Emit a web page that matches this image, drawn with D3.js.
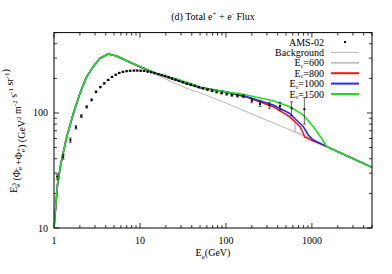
<!DOCTYPE html>
<html>
<head>
<meta charset="utf-8">
<script src="https://cdn.jsdelivr.net/npm/d3@7"></script>
<style>
  body { margin: 0; background: #fff; }
  text { font-family: "Liberation Serif", "Times New Roman", serif; font-size: 10px; fill: #000; }
</style>
</head>
<body>
<svg id="chart" width="392" height="274"></svg>
<script>
// AMS-02 total e+ + e- flux, E^3 weighted : [E (GeV), value, error]
var amsData = [
  [1.09, 28, 1.5], [1.28, 41.7, 2], [1.55, 58, 2.5], [1.80, 75, 2.5], [2.08, 94, 2.5],
  [2.40, 113, 2.5], [2.74, 130, 2.5], [3.08, 153, 2.5], [3.46, 168, 2.5], [3.84, 181, 2.5],
  [4.27, 194, 2.5], [4.73, 206, 2.5], [5.23, 215, 2.5], [5.74, 223, 2.5], [6.34, 228, 2.5],
  [6.99, 231, 2.5], [7.7, 233, 2.5], [8.5, 234, 2.5], [9.3, 234, 2.5], [10.2, 233, 2.5],
  [11.2, 232, 2.5], [12.3, 229, 2.5], [13.5, 226, 2.5], [14.8, 222, 2.5], [16.3, 218, 2.5],
  [17.9, 214, 2.5], [19.6, 210, 2.5], [21.5, 205, 2.5], [23.6, 200, 2.5], [26, 195, 2.5],
  [28.5, 190, 2.5], [31.5, 185, 2.5], [35, 180, 2.5], [39, 176, 2.5], [43.5, 172, 2.5],
  [48.5, 168, 2.5], [54, 164, 2.5], [61, 160, 2.5], [69, 156, 2.5], [78, 152, 2.5],
  [89, 149, 3], [102, 146, 3], [117, 143, 3], [136, 141, 3.5], [159, 140, 4],
  [200, 128, 5], [249, 120, 6], [320, 117, 7], [426, 115, 9], [580, 110, 15],
  [817, 108, 28]
];

// model curves : [E (GeV), value]
var background = [
  [1.0, 10], [1.1, 24], [1.2, 36], [1.405, 62], [1.68, 99], [2.0, 148], [2.4, 207],
  [2.86, 253], [3.43, 299], [4.28, 326], [5.36, 313], [7.0, 285], [10, 250],
  [15.6, 215], [24, 185], [38, 160], [50, 150], [100, 122], [200, 98], [400, 79],
  [870, 62], [1490, 51], [5000, 33.7]
];
var ec600 = [
  [1.0, 10], [1.1, 24], [1.2, 36], [1.405, 62], [1.68, 99], [2.0, 148], [2.4, 207],
  [2.86, 253], [3.43, 299], [4.28, 326], [5.36, 313], [7.0, 285], [10, 252],
  [15.6, 219], [24, 197], [38, 176], [50, 165], [100, 150], [200, 134], [350, 114],
  [500, 96], [600, 86], [636, 85], [636, 68.6], [870, 62], [1490, 51], [5000, 33.7]
];
var ec800 = [
  [1.0, 10], [1.1, 24], [1.2, 36], [1.405, 62], [1.68, 99], [2.0, 148], [2.4, 207],
  [2.86, 253], [3.43, 299], [4.28, 326], [5.36, 313], [7.0, 285], [10, 252],
  [15.6, 219], [24, 198], [38, 178], [50, 166], [100, 152], [173, 138], [354, 113.5],
  [553, 93], [727, 76], [790, 67], [826, 61.5], [870, 61], [1038, 57], [1490, 51],
  [5000, 33.7]
];
var ec1000 = [
  [1.0, 10], [1.1, 24], [1.2, 36], [1.405, 62], [1.68, 99], [2.0, 148], [2.4, 207],
  [2.86, 253], [3.43, 299], [4.28, 326], [5.36, 313], [7.0, 285], [10, 252],
  [15.6, 220], [24, 199], [38, 179], [50, 167], [100, 153], [173, 139], [354, 117.5],
  [553, 99], [794, 76], [906, 64.4], [1038, 58.2], [1490, 51], [5000, 33.7]
];
var ec1500 = [
  [1.0, 10], [1.1, 24], [1.2, 36], [1.405, 62], [1.68, 99], [2.0, 148], [2.4, 207],
  [2.86, 253], [3.43, 299], [4.28, 326], [5.36, 313], [7.0, 285], [10, 253],
  [15.6, 221], [24.4, 200], [38, 181], [50, 168], [71, 158], [173, 143.6], [354, 128],
  [553, 113.5], [794, 96], [1038, 76], [1294, 60.3], [1490, 50.9], [5000, 33.7]
];

var xMajor = [1, 10, 100, 1000];
var yMajor = [10, 100];

var svg = d3.select('#chart');
var margin = {left: 54, right: 20, top: 32.6, bottom: 46};
var W = 392, H = 274;

var x = d3.scaleLog().domain([1, 5000]).range([margin.left, W - margin.right]);
var y = d3.scaleLog().domain([10, 500]).range([H - margin.bottom, margin.top]);

var x0 = x.range()[0], x1 = x.range()[1], y0 = y.range()[0], y1 = y.range()[1];

//minor ticks for log axes
function minorTicks(dom) {
  var out = [];
  for (var p = 1; p <= 1000; p *= 10) {
    for (var k = 1; k < 10; k++) {
      var v = k * p;
      if (v >= dom[0] && v <= dom[1]) out.push(v);
    }
  }
  return out;
}

var ticks = svg.append('g').attr('stroke', '#000').attr('stroke-width', 0.8);
minorTicks(x.domain()).forEach(function (v) {
  var major = xMajor.indexOf(v) >= 0;
  var len = major ? 5 : 3;
  ticks.append('line').attr('x1', x(v)).attr('x2', x(v)).attr('y1', y0).attr('y2', y0 - len);
  ticks.append('line').attr('x1', x(v)).attr('x2', x(v)).attr('y1', y1).attr('y2', y1 + len);
});
minorTicks(y.domain()).forEach(function (v) {
  var major = yMajor.indexOf(v) >= 0;
  var len = major ? 5 : 3;
  ticks.append('line').attr('y1', y(v)).attr('y2', y(v)).attr('x1', x0).attr('x2', x0 + len);
  ticks.append('line').attr('y1', y(v)).attr('y2', y(v)).attr('x1', x1).attr('x2', x1 - len);
});

//tick labels
svg.append('g').selectAll('text').data(xMajor).join('text')
  .attr('x', function (d) { return x(d); })
  .attr('y', y0 + 16)
  .attr('text-anchor', 'middle')
  .text(function (d) { return d; });
svg.append('g').selectAll('text').data(yMajor).join('text')
  .attr('x', x0 - 6)
  .attr('y', function (d) { return y(d) + 3.5; })
  .attr('text-anchor', 'end')
  .text(function (d) { return d; });

//curves
var clipId = 'plotclip';
svg.append('clipPath').attr('id', clipId).append('rect')
  .attr('x', x0).attr('y', y1).attr('width', x1 - x0).attr('height', y0 - y1);

var line = d3.line().x(function (d) { return x(d[0]); }).y(function (d) { return y(d[1]); });
var plot = svg.append('g').attr('clip-path', 'url(#' + clipId + ')');

var curves = [
  {name: 'Background', data: background, color: '#9a9a9a', width: 0.7},
  {name: '600', data: ec600, color: '#bdbdbd', width: 1.4},
  {name: '800', data: ec800, color: '#f01a1a', width: 1.6},
  {name: '1000', data: ec1000, color: '#2a2af0', width: 1.6},
  {name: '1500', data: ec1500, color: '#1ee01e', width: 1.6}
];
curves.forEach(function (c) {
  plot.append('path').datum(c.data)
    .attr('d', line)
    .attr('fill', 'none')
    .attr('stroke', c.color)
    .attr('stroke-width', c.width)
    .attr('stroke-linejoin', 'round');
});

//AMS-02 points with error bars
var pts = plot.append('g').attr('stroke', '#000').attr('stroke-width', 0.6);
amsData.forEach(function (d) {
  var px = x(d[0]), lo = y(d[1] - d[2]), hi = y(d[1] + d[2]);
  pts.append('line').attr('x1', px).attr('x2', px).attr('y1', lo).attr('y2', hi);
  pts.append('line').attr('x1', px - 1.5).attr('x2', px + 1.5).attr('y1', lo).attr('y2', lo);
  pts.append('line').attr('x1', px - 1.5).attr('x2', px + 1.5).attr('y1', hi).attr('y2', hi);
});
plot.append('g').selectAll('rect').data(amsData).join('rect')
  .attr('x', function (d) { return x(d[0]) - 1; })
  .attr('y', function (d) { return y(d[1]) - 1; })
  .attr('width', 2).attr('height', 2)
  .attr('fill', '#000');

//frame
svg.append('rect').attr('x', x0).attr('y', y1).attr('width', x1 - x0).attr('height', y0 - y1)
  .attr('fill', 'none').attr('stroke', '#000').attr('stroke-width', 1);

//legend
var legX = 324, legY = 42, legStep = 10.4;
var leg = svg.append('g');
var legRows = [{label: 'AMS-02'}].concat(curves);
legRows.forEach(function (c, i) {
  var ty = legY + i * legStep;
  var t = leg.append('text').attr('x', legX).attr('y', ty + 3.5).attr('text-anchor', 'end');
  if (c.label) {
    t.text(c.label);
    leg.append('rect').attr('x', 344).attr('y', ty - 1).attr('width', 2).attr('height', 2).attr('fill', '#000');
  } else if (c.name === 'Background') {
    t.text('Background');
    leg.append('line').attr('x1', 331).attr('x2', 359).attr('y1', ty).attr('y2', ty)
      .attr('stroke', c.color).attr('stroke-width', c.width);
  } else {
    t.append('tspan').text('E');
    t.append('tspan').attr('dy', 1.5).style('font-size', '6px').text('c');
    t.append('tspan').attr('dy', -1.5).text('=' + c.name);
    leg.append('line').attr('x1', 331).attr('x2', 359).attr('y1', ty).attr('y2', ty)
      .attr('stroke', c.color).attr('stroke-width', c.width + 0.4);
  }
});

//title
var title = svg.append('text').attr('x', 213).attr('y', 20).attr('text-anchor', 'middle');
title.append('tspan').text('(d) Total e');
title.append('tspan').attr('dy', -4).style('font-size', '7px').text('+');
title.append('tspan').attr('dy', 4).text(' + e');
title.append('tspan').attr('dy', -4).style('font-size', '7px').text('-');
title.append('tspan').attr('dy', 4).text(' Flux');

//x label
var xl = svg.append('text').attr('x', 213).attr('y', 256).attr('text-anchor', 'middle');
xl.append('tspan').text('E');
xl.append('tspan').attr('dy', 2.5).style('font-size', '7px').text('e');
xl.append('tspan').attr('dy', -2.5).text('(GeV)');

//y label
var yl = svg.append('text').attr('transform', 'translate(17,131) rotate(-90)').attr('text-anchor', 'middle');
function sub(t, s) { t.append('tspan').attr('dy', 2.5).style('font-size', '7px').text(s); t.append('tspan').attr('dy', -2.5).text(''); }
function sup(t, s) { t.append('tspan').attr('dy', -4).style('font-size', '7px').text(s); t.append('tspan').attr('dy', 4).text(''); }
yl.append('tspan').text('E');
sub(yl, 'e');
yl.append('tspan').attr('dx', -3).attr('dy', -4).style('font-size', '7px').text('3');
yl.append('tspan').attr('dy', 4).text(' (\u03a6');
sub(yl, 'e');
yl.append('tspan').attr('dx', -3).attr('dy', -4).style('font-size', '7px').text('-');
yl.append('tspan').attr('dy', 4).text(' +\u03a6');
sub(yl, 'e');
yl.append('tspan').attr('dx', -3).attr('dy', -4).style('font-size', '7px').text('+');
yl.append('tspan').attr('dy', 4).text(') (GeV');
sup(yl, '2');
yl.append('tspan').text(' m');
sup(yl, '-2');
yl.append('tspan').text(' s');
sup(yl, '-1');
yl.append('tspan').text(' sr');
sup(yl, '-1');
yl.append('tspan').text(')');
</script>
</body>
</html>
